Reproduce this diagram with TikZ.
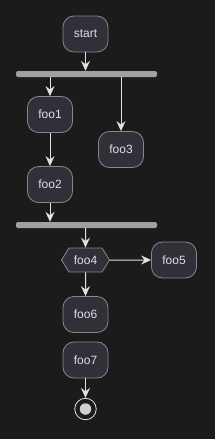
\documentclass[tikz,border=0pt]{standalone}
\usepackage{fontspec}
\setmainfont{Liberation Sans}
\usetikzlibrary{arrows.meta,shapes.symbols}
\definecolor{bgdark}{RGB}{27,27,27}
\definecolor{boxfill}{RGB}{47,48,56}
\definecolor{boxline}{RGB}{135,135,140}
\definecolor{barfill}{RGB}{160,160,160}
\definecolor{flowcol}{RGB}{225,225,225}
\begin{document}
\begin{tikzpicture}[
        x=1pt, y=-1pt,
        every node/.style={font=\fontsize{12}{14}\selectfont, text=flowcol},
        act/.style={draw=boxline, fill=boxfill, rounded corners=11pt, line width=0.8pt,
            minimum width=45pt, minimum height=36pt, inner sep=0pt},
        choice/.style={draw=boxline, fill=boxfill, line width=0.8pt, signal,
            signal to=west and east, signal pointer angle=116,
            minimum width=48pt, minimum height=24pt, inner sep=0pt},
        forkbar/.style={fill=barfill, rounded corners=2pt, minimum width=141pt,
            minimum height=6pt, inner sep=0pt},
        flow/.style={draw=flowcol, line width=1pt,
            -{Stealth[length=10pt, width=9pt, inset=3.5pt]}},
    ]
    \useasboundingbox[fill=bgdark] (0,0) rectangle (215,439);
    \node[act](start) at (85.5,34){start};
    \node[forkbar](fork) at (86.5,74){};
    \node[act](foo1) at (50,114.5){foo1};
    \node[act](foo3) at (121,149.5){foo3};
    \node[act](foo2) at (50,184.5){foo2};
    \node[forkbar](join) at (86.5,225){};
    \node[choice](foo4) at (85.5,260){foo4};
    \node[act](foo5) at (174,260){foo5};
    \node[act](foo6) at (85.5,314.5){foo6};
    \node[act](foo7) at (85.5,360){foo7};
    \node[circle, draw=flowcol, line width=0.8pt, minimum size=21.5pt, inner sep=0pt](stop) at (85.5,409){};
    \node[circle, fill=flowcol!92!black, minimum size=11.5pt, inner sep=0pt](stopdot) at (stop){};
    % connectors
    \draw[flow] (start) -- (start |- fork.north);
    \draw[flow] (fork.south -| foo1) -- (foo1);
    \draw[flow] (fork.south -| foo3) -- (foo3);
    \draw[flow] (foo1) -- (foo2);
    \draw[flow] (foo2) -- (foo2 |- join.north);
    \draw[flow] (join.south -| foo4) -- (foo4);
    \draw[flow] (foo4) -- (foo5);
    \draw[flow] (foo4) -- (foo6);
    \draw[flow] (foo7) -- (stop);
\end{tikzpicture}
\end{document}
